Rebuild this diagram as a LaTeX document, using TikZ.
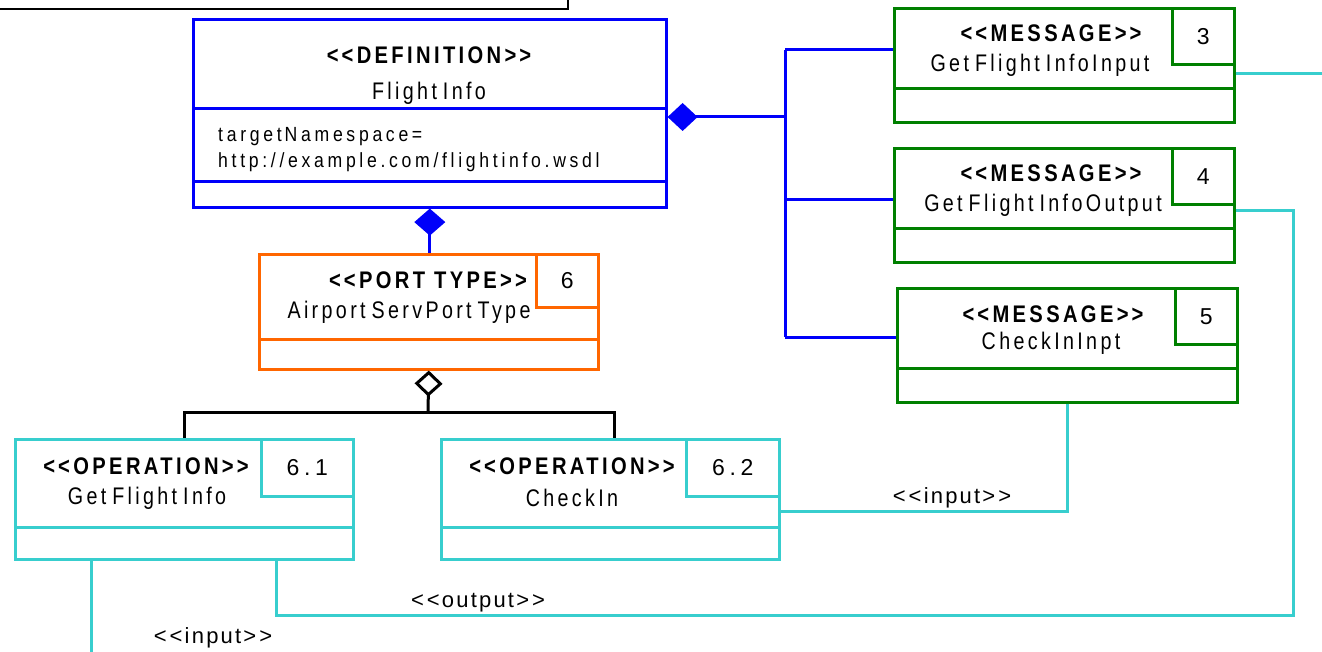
\documentclass[tikz,border=0pt]{standalone}
\usepackage{fontspec}
\setmainfont{Liberation Sans}
\usetikzlibrary{arrows.meta,calc}
\newfontfamily\stfont[LetterSpace=14,FakeStretch=0.84]{Liberation Sans}
\newfontfamily\nmfont[LetterSpace=14,FakeStretch=0.82]{Liberation Sans}
\newfontfamily\atfont[LetterSpace=18,FakeStretch=0.86]{Liberation Sans}
\newfontfamily\numfont[LetterSpace=20]{Liberation Sans}
\newfontfamily\lbfont[LetterSpace=10]{Liberation Sans}
\definecolor{cBlue}{RGB}{0,0,250}
\definecolor{cGreen}{RGB}{0,128,0}
\definecolor{cOrange}{RGB}{255,102,0}
\definecolor{cCyan}{RGB}{56,206,206}
\newcommand\ltlt{<\kern3pt<}
\newcommand\gtgt{>\kern3pt>}
\newcommand\wg{\kern6pt}
\tikzset{
  box/.style={draw, line width=2.6pt, anchor=north west, inner sep=0pt, fill=white},
  numbox/.style={box, anchor=north east, font=\numfont\fontsize{23}{26}\selectfont},
  st/.style={inner sep=0pt, font=\stfont\bfseries\fontsize{24}{27}\selectfont},
  nm/.style={inner sep=0pt, font=\nmfont\fontsize{24}{27}\selectfont},
  attr/.style={inner sep=0pt, anchor=west, font=\atfont\fontsize{20.5}{23}\selectfont},
  lb/.style={inner sep=0pt, font=\lbfont\fontsize{22}{25}\selectfont},
  bl/.style={draw=cBlue, line width=3pt},
  gr/.style={draw=cGreen, line width=3pt},
  og/.style={draw=cOrange, line width=3pt},
  cy/.style={draw=cCyan, line width=3pt},
  blk/.style={draw=black, line width=3pt},
}
\begin{document}
\begin{tikzpicture}[x=1pt,y=-1pt]
\useasboundingbox (0,0) rectangle (1322,652);
% top black frame (cut off)
\draw[line width=1.8pt] (-10,-10) rectangle (568,9);

% DEFINITION
\node[box, draw=cBlue, minimum width=473pt, minimum height=188pt] (def) at (192,18) {};
\draw[bl] (192,109) -- (665,109);
\draw[bl] (192,182) -- (665,182);
\node[st] (defst) at (429,55) {\ltlt DEFINITION\gtgt};
\node[nm] (defnm) at (429,93) {Flight\wg Info};
\node[attr] (defat1) at (218,137) {target\kern3pt Namespace=};
\node[attr] (defat2) at (218,162) {http://example.com/flightinfo.wsdl};

% MESSAGES
\node[box, draw=cGreen, minimum width=340pt, minimum height=114pt] (msg3) at (893,7) {};
\node[numbox, draw=cGreen, minimum width=62pt, minimum height=56pt] (msg3n) at (msg3.north east) {3};
\draw[gr] (893,89) -- (1233,89);
\node[st] (msg3st) at (1051,33) {\ltlt MESSAGE\gtgt};
\node[nm] (msg3nm) at (1040,65) {Get\wg Flight\wg InfoInput};

\node[box, draw=cGreen, minimum width=340pt, minimum height=114pt] (msg4) at (893,147) {};
\node[numbox, draw=cGreen, minimum width=62pt, minimum height=56pt] (msg4n) at (msg4.north east) {4};
\draw[gr] (893,229) -- (1233,229);
\node[st] (msg4st) at (1051,173) {\ltlt MESSAGE\gtgt};
\node[nm] (msg4nm) at (1043,205) {Get\wg Flight\wg InfoOutput};

\node[box, draw=cGreen, minimum width=340pt, minimum height=114pt] (msg5) at (896,287) {};
\node[numbox, draw=cGreen, minimum width=62pt, minimum height=56pt] (msg5n) at (msg5.north east) {5};
\draw[gr] (896,368) -- (1236,368);
\node[st] (msg5st) at (1053,314) {\ltlt MESSAGE\gtgt};
\node[nm] (msg5nm) at (1051,343) {CheckInInpt};

% PORT TYPE
\node[box, draw=cOrange, minimum width=339pt, minimum height=115pt] (pt) at (258,253) {};
\node[numbox, draw=cOrange, minimum width=62pt, minimum height=53pt] (ptn) at (pt.north east) {6};
\draw[og] (258,339) -- (597,339);
\node[st] (ptst) at (428,280) {\ltlt PORT TYPE\gtgt};
\node[nm] (ptnm) at (409,312) {Airport\wg ServPort\wg Type};

% OPERATIONS
\node[box, draw=cCyan, minimum width=338pt, minimum height=120pt] (op1) at (14,438) {};
\node[numbox, draw=cCyan, minimum width=92pt, minimum height=57pt] (op1n) at (op1.north east) {6.1};
\draw[cy] (14,527) -- (352,527);
\node[st] (op1st) at (146,466) {\ltlt OPERATION\gtgt};
\node[nm] (op1nm) at (147,498) {Get\wg Flight\wg Info};

\node[box, draw=cCyan, minimum width=338pt, minimum height=120pt] (op2) at (440,438) {};
\node[numbox, draw=cCyan, minimum width=93pt, minimum height=57pt] (op2n) at (op2.north east) {6.2};
\draw[cy] (440,527) -- (778,527);
\node[st] (op2st) at (572,466) {\ltlt OPERATION\gtgt};
\node[nm] (op2nm) at (572,498) {CheckIn};

% composition: definition - messages
\coordinate (hub) at (785,117);
\coordinate (b3) at (785,50);
\coordinate (b4) at (785,200);
\coordinate (b5) at (785,337);
\draw[bl, -{Diamond[length=30pt,width=28pt,fill=cBlue]}] (hub) -- (def.east |- hub);
\draw[bl] (b3) -- (b5);
\draw[bl] (b3) -- (msg3.west |- b3);
\draw[bl] (b4) -- (msg4.west |- b4);
\draw[bl] (b5) -- (msg5.west |- b5);

% composition: definition - port type
\draw[bl, -{Diamond[length=27pt,width=31pt,fill=cBlue]}] (def.south |- pt.north) -- (def.south);

% aggregation: port type - operations
\coordinate (agg) at (428,412);
\coordinate (t2) at (614,0);
\draw[blk, -{Diamond[open,length=26pt,width=28pt,fill=white]}] (agg) -- (pt.south);
\draw[blk] (op1.north) |- (agg) -| (op2.north -| t2);

% message links
\coordinate (e3) at (1330,74);
\coordinate (e4) at (1293,211);
\coordinate (r4) at (1293,615);
\coordinate (o1) at (276,615);
\coordinate (e5) at (0,511);
\coordinate (i1) at (91,660);
\draw[cy] (msg3.east |- e3) -- (e3);
\draw[cy] (msg4.east |- e4) -- (e4) -- (r4) -- (o1) -- (o1 |- op1.south);
\draw[cy] (msg5.south) |- (op2.east |- e5);
\draw[cy] (op1.south -| i1) -- (i1);

\node[lb] (lbout) at (478,603) {\ltlt output\gtgt};
\node[lb] (lbin2) at (952,498) {\ltlt input\gtgt};
\node[lb] (lbin1) at (213,638) {\ltlt input\gtgt};
\end{tikzpicture}
\end{document}
